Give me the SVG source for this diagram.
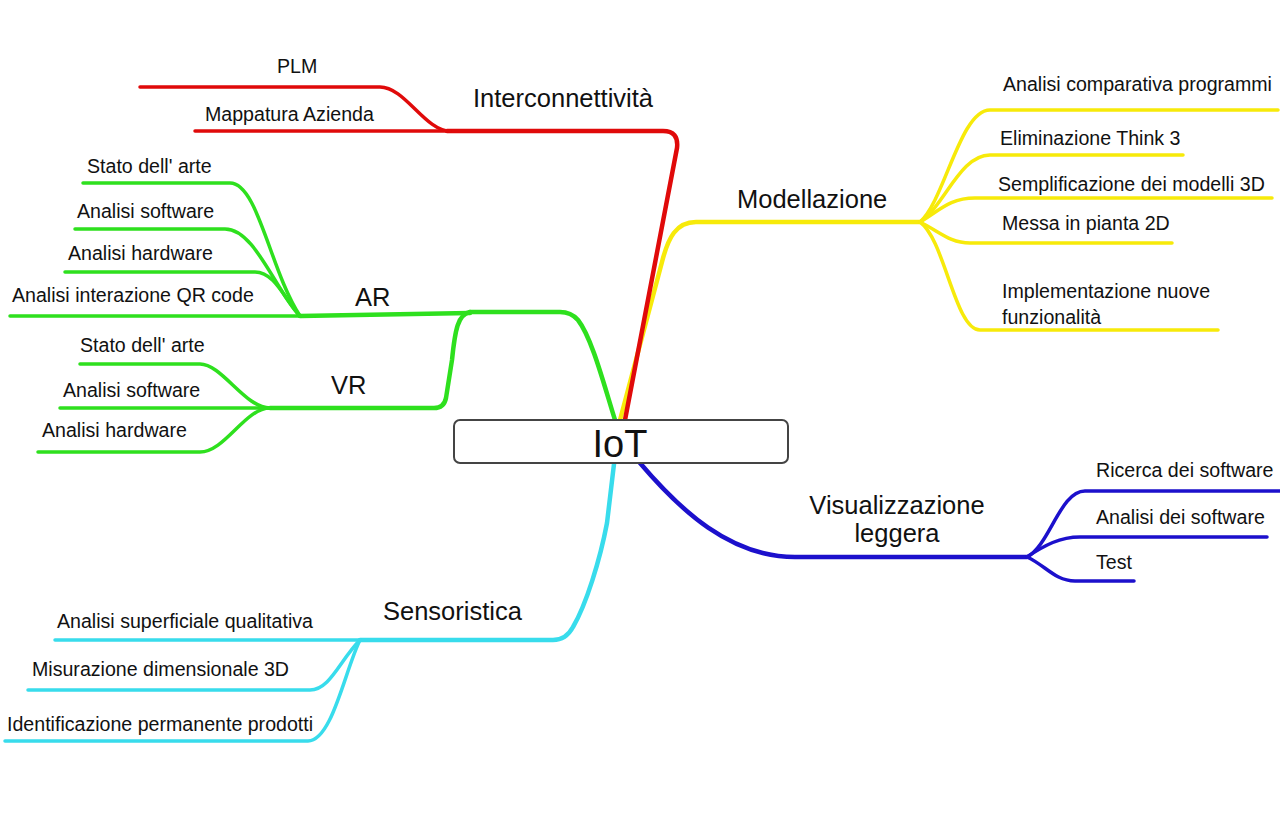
<svg xmlns="http://www.w3.org/2000/svg" width="1280" height="828" viewBox="0 0 1280 828">
<style>
text{font-family:"Liberation Sans",Arial,sans-serif;fill:#111}
.s{font-size:19.6px}
.m{font-size:25.5px}
.c path{fill:none;stroke-linecap:round;stroke-linejoin:round}
.r path{stroke:#e00a0a}
.g path{stroke:#2ee01e}
.y path{stroke:#f7ea0a}
.b path{stroke:#1c10cc}
.cy path{stroke:#38dcec}
.t{stroke-width:4.5}
.l{stroke-width:3.5}
</style>
<rect width="1280" height="828" fill="#fff"/>
<g id="connectors" class="c">
 <g class="y">
  <path class="t" d="M620 420 L662 262 C668 238 676 222 696 222 L920 222"/>
  <path class="l" d="M920 222 C945 200 960 110 990 110 L1278 110"/>
  <path class="l" d="M920 222 C945 205 960 155 990 155 L1183 155"/>
  <path class="l" d="M920 222 C940 210 950 198 975 198 L1272 198"/>
  <path class="l" d="M920 222 C940 232 950 243 970 243 L1172 243"/>
  <path class="l" d="M920 222 C945 240 955 330 980 330 L1218 330"/>
 </g>
 <g class="r">
  <path class="t" d="M625 420 L677 148 Q679 131 663 131 L447 131"/>
  <path class="l" d="M450 131 C425 131 405 87 380 87 L140 87"/>
  <path class="l" d="M450 131 L195 131"/>
 </g>
 <g class="g">
  <path class="t" d="M615 420 C604 385 592 338 578 320 Q571 312 560 312 L470 312"/>
  <path class="t" d="M470 313 L300 316"/>
  <path class="l" d="M300 316 L10 316"/>
  <path class="l" d="M300 316 C285 300 275 272 255 272 L65 272"/>
  <path class="l" d="M300 316 C275 290 255 229 225 229 L75 229"/>
  <path class="l" d="M300 316 C270 270 258 183 230 183 L83 183"/>
  <path class="t" d="M470 312 C458 314 455 330 452 360 L446 398 Q444 408 434 408 L270 408"/>
  <path class="l" d="M270 408 C245 408 222 364 200 364 L80 364"/>
  <path class="l" d="M270 408 L60 408"/>
  <path class="l" d="M270 408 C245 408 225 452 200 452 L38 452"/>
 </g>
 <g class="b">
  <path class="t" d="M640 463 C680 510 730 557 795 557 L1027 557"/>
  <path class="l" d="M1027 557 C1050 545 1060 491 1085 491 L1280 491"/>
  <path class="l" d="M1027 557 C1045 545 1060 537 1080 537 L1267 537"/>
  <path class="l" d="M1027 557 C1045 565 1055 581 1075 581 L1134 581"/>
 </g>
 <g class="cy">
  <path class="t" d="M614 464 L607 523 C600 560 586 605 573 627 Q566 640 553 640 L360 640"/>
  <path class="l" d="M360 640 L55 640"/>
  <path class="l" d="M360 640 C340 660 330 690 310 690 L28 690"/>
  <path class="l" d="M360 640 C345 670 332 741 308 741 L5 741"/>
 </g>
</g>
<g id="iot">
 <rect x="454" y="420" width="334" height="43" rx="6" fill="#fff" stroke="#444" stroke-width="2"/>
 <text x="620" y="457" font-size="38" text-anchor="middle">IoT</text>
</g>
<g id="interconnettivita"><text class="m" x="473" y="107">Interconnettività</text></g>
<g id="plm"><text class="s" x="277" y="73">PLM</text></g>
<g id="mappatura"><text class="s" x="205" y="121">Mappatura Azienda</text></g>
<g id="ar"><text class="m" x="355" y="306">AR</text></g>
<g id="ar-stato"><text class="s" x="87" y="173">Stato dell' arte</text></g>
<g id="ar-software"><text class="s" x="77" y="218">Analisi software</text></g>
<g id="ar-hardware"><text class="s" x="68" y="260">Analisi hardware</text></g>
<g id="ar-qr"><text class="s" x="12" y="302">Analisi interazione QR code</text></g>
<g id="vr"><text class="m" x="331" y="394">VR</text></g>
<g id="vr-stato"><text class="s" x="80" y="352">Stato dell' arte</text></g>
<g id="vr-software"><text class="s" x="63" y="397">Analisi software</text></g>
<g id="vr-hardware"><text class="s" x="42" y="437">Analisi hardware</text></g>
<g id="modellazione"><text class="m" x="737" y="208">Modellazione</text></g>
<g id="mod-1"><text class="s" x="1003" y="91">Analisi comparativa programmi</text></g>
<g id="mod-2"><text class="s" x="1000" y="145">Eliminazione Think 3</text></g>
<g id="mod-3"><text class="s" x="998" y="191">Semplificazione dei modelli 3D</text></g>
<g id="mod-4"><text class="s" x="1002" y="230">Messa in pianta 2D</text></g>
<g id="mod-5"><text class="s" x="1002" y="298">Implementazione nuove</text><text class="s" x="1002" y="324">funzionalità</text></g>
<g id="visualizzazione"><text class="m" x="897" y="514" text-anchor="middle">Visualizzazione</text><text class="m" x="897" y="542" text-anchor="middle">leggera</text></g>
<g id="vis-1"><text class="s" x="1096" y="477">Ricerca dei software</text></g>
<g id="vis-2"><text class="s" x="1096" y="524">Analisi dei software</text></g>
<g id="vis-3"><text class="s" x="1096" y="569">Test</text></g>
<g id="sensoristica"><text class="m" x="383" y="620">Sensoristica</text></g>
<g id="sen-1"><text class="s" x="57" y="628">Analisi superficiale qualitativa</text></g>
<g id="sen-2"><text class="s" x="32" y="676">Misurazione dimensionale 3D</text></g>
<g id="sen-3"><text class="s" x="7" y="731">Identificazione permanente prodotti</text></g>
</svg>
